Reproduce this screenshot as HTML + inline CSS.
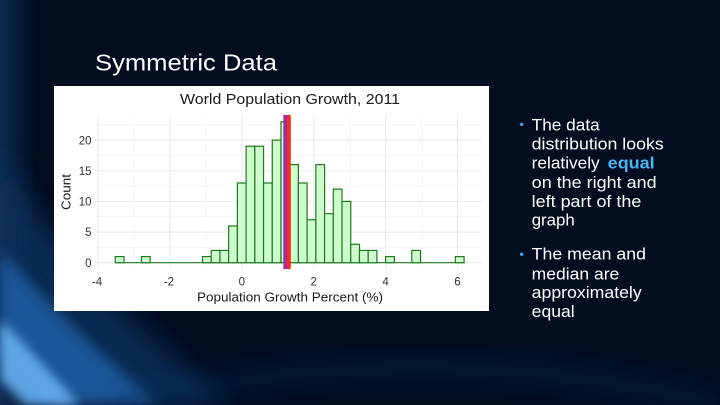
<!DOCTYPE html>
<html>
<head>
<meta charset="utf-8">
<style>
html,body{margin:0;padding:0;background:#020d20;width:720px;height:405px;overflow:hidden;}
svg{display:block;}
text{font-family:"Liberation Sans",Arial,sans-serif;}
</style>
</head>
<body>
<svg width="720" height="405" viewBox="0 0 720 405" xmlns="http://www.w3.org/2000/svg">
<defs>
  <filter id="b1" x="-50%" y="-50%" width="200%" height="200%"><feGaussianBlur stdDeviation="12"/></filter>
  <filter id="b2" x="-50%" y="-50%" width="200%" height="200%"><feGaussianBlur stdDeviation="7"/></filter>
  <filter id="b3" x="-50%" y="-50%" width="200%" height="200%"><feGaussianBlur stdDeviation="5"/></filter>
  <linearGradient id="edge" x1="0" y1="0" x2="1" y2="0">
    <stop offset="0" stop-color="#1c4f8c" stop-opacity="0.45"/>
    <stop offset="1" stop-color="#1c4f8c" stop-opacity="0"/>
  </linearGradient>
  <clipPath id="clip"><rect x="0" y="0" width="720" height="405"/></clipPath>
</defs>

<!-- background -->
<rect x="0" y="0" width="720" height="405" fill="#020d20"/>
<g clip-path="url(#clip)">
<rect x="0" y="0" width="35" height="405" fill="url(#edge)"/>
<path d="M0,150 Q60,270 230,405 L0,405 Z" fill="#0d3566" opacity="0.7" filter="url(#b1)"/>
<path d="M0,250 Q70,330 160,405 L50,405 Q25,375 0,355 Z" fill="#2466b0" opacity="0.75" filter="url(#b2)"/>
<path d="M0,320 Q35,355 80,405 L25,405 Q12,390 0,380 Z" fill="#66aff0" opacity="0.9" filter="url(#b3)"/>
<path d="M120,405 Q420,330 720,405" fill="none" stroke="#0a2e5c" stroke-width="12" opacity="0.6" filter="url(#b1)"/>
</g>

<!-- slide title -->
<text x="95" y="70.7" font-size="23" fill="#ffffff" textLength="182" lengthAdjust="spacingAndGlyphs">Symmetric Data</text>

<!-- chart box -->
<rect x="54" y="86" width="435" height="225" fill="#ffffff"/>

<!-- minor grid -->
<g stroke="#f4f4f4" stroke-width="0.8">
  <line x1="95" x2="482" y1="124.8" y2="124.8"/>
  <line x1="95" x2="482" y1="155.4" y2="155.4"/>
  <line x1="95" x2="482" y1="186.1" y2="186.1"/>
  <line x1="95" x2="482" y1="216.7" y2="216.7"/>
  <line x1="95" x2="482" y1="247.4" y2="247.4"/>
  <line y1="115" y2="269" x1="133.95" x2="133.95"/>
  <line y1="115" y2="269" x1="205.85" x2="205.85"/>
  <line y1="115" y2="269" x1="277.75" x2="277.75"/>
  <line y1="115" y2="269" x1="349.65" x2="349.65"/>
  <line y1="115" y2="269" x1="421.55" x2="421.55"/>
</g>
<!-- major grid -->
<g stroke="#ebebeb" stroke-width="1.1">
  <line x1="95" x2="482" y1="262.7" y2="262.7"/>
  <line x1="95" x2="482" y1="232.05" y2="232.05"/>
  <line x1="95" x2="482" y1="201.4" y2="201.4"/>
  <line x1="95" x2="482" y1="170.75" y2="170.75"/>
  <line x1="95" x2="482" y1="140.1" y2="140.1"/>
  <line y1="115" y2="269" x1="98" x2="98"/>
  <line y1="115" y2="269" x1="169.9" x2="169.9"/>
  <line y1="115" y2="269" x1="241.8" x2="241.8"/>
  <line y1="115" y2="269" x1="313.7" x2="313.7"/>
  <line y1="115" y2="269" x1="385.6" x2="385.6"/>
  <line y1="115" y2="269" x1="457.5" x2="457.5"/>
</g>

<!-- bars -->
<g fill="#cdfccd" stroke="#1f7a1f" stroke-width="1.2">
  <line x1="115.3" x2="464.1" y1="262.7" y2="262.7"/>
  <rect x="115.3" y="256.57" width="8.72" height="6.13"/>
  <rect x="141.46" y="256.57" width="8.72" height="6.13"/>
  <rect x="202.5" y="256.57" width="8.72" height="6.13"/>
  <rect x="211.22" y="250.44" width="8.72" height="12.26"/>
  <rect x="219.94" y="250.44" width="8.72" height="12.26"/>
  <rect x="228.66" y="225.92" width="8.72" height="36.78"/>
  <rect x="237.38" y="183.01" width="8.72" height="79.69"/>
  <rect x="246.1" y="146.23" width="8.72" height="116.47"/>
  <rect x="254.82" y="146.23" width="8.72" height="116.47"/>
  <rect x="263.54" y="183.01" width="8.72" height="79.69"/>
  <rect x="272.26" y="140.1" width="8.72" height="122.6"/>
  <rect x="280.98" y="121.71" width="8.72" height="140.99"/>
  <rect x="289.7" y="164.62" width="8.72" height="98.08"/>
  <rect x="298.42" y="183.01" width="8.72" height="79.69"/>
  <rect x="307.14" y="219.79" width="8.72" height="42.91"/>
  <rect x="315.86" y="164.62" width="8.72" height="98.08"/>
  <rect x="324.58" y="213.66" width="8.72" height="49.04"/>
  <rect x="333.3" y="189.14" width="8.72" height="73.56"/>
  <rect x="342.02" y="201.4" width="8.72" height="61.3"/>
  <rect x="350.74" y="244.31" width="8.72" height="18.39"/>
  <rect x="359.46" y="250.44" width="8.72" height="12.26"/>
  <rect x="368.18" y="250.44" width="8.72" height="12.26"/>
  <rect x="385.62" y="256.57" width="8.72" height="6.13"/>
  <rect x="411.78" y="250.44" width="8.72" height="12.26"/>
  <rect x="455.38" y="256.57" width="8.72" height="6.13"/>
</g>

<!-- mean / median lines -->
<rect x="283.3" y="115" width="4" height="154" fill="#9b2fae"/>
<rect x="286.8" y="115" width="4" height="154" fill="#fa2a1c"/>

<!-- chart title -->
<text x="290" y="104" font-size="15" fill="#1a1a1a" text-anchor="middle" textLength="220" lengthAdjust="spacingAndGlyphs">World Population Growth, 2011</text>

<!-- y tick labels -->
<g font-size="11.5" fill="#333333" text-anchor="end">
  <text x="91.5" y="266.9">0</text>
  <text x="91.5" y="236.2">5</text>
  <text x="91.5" y="205.6">10</text>
  <text x="91.5" y="174.9">15</text>
  <text x="91.5" y="144.3">20</text>
</g>
<!-- x tick labels -->
<g font-size="11.5" fill="#333333" text-anchor="middle">
  <text x="97" y="285.3">-4</text>
  <text x="168.9" y="285.3">-2</text>
  <text x="241.8" y="285.3">0</text>
  <text x="313.7" y="285.3">2</text>
  <text x="385.6" y="285.3">4</text>
  <text x="457.5" y="285.3">6</text>
</g>
<!-- axis titles -->
<text x="290" y="301.7" font-size="13" fill="#1a1a1a" text-anchor="middle" textLength="186" lengthAdjust="spacingAndGlyphs">Population Growth Percent (%)</text>
<text transform="translate(70.5,192) rotate(-90)" font-size="13" fill="#1a1a1a" text-anchor="middle" textLength="36" lengthAdjust="spacingAndGlyphs">Count</text>

<!-- bullets -->
<circle cx="521.7" cy="124.3" r="1.7" fill="#3fa9e6"/>
<circle cx="521.7" cy="254.3" r="1.7" fill="#3fa9e6"/>
<g font-size="17" fill="#ffffff">
  <text x="531.7" y="130.3" textLength="68" lengthAdjust="spacingAndGlyphs">The data</text>
  <text x="531.7" y="149.3" textLength="132" lengthAdjust="spacingAndGlyphs">distribution looks</text>
  <text x="531.7" y="168.7" textLength="68" lengthAdjust="spacingAndGlyphs">relatively</text>
  <text x="607.7" y="168.7" textLength="47" lengthAdjust="spacingAndGlyphs" font-weight="bold" fill="#45b6f2">equal</text>
  <text x="531.7" y="188" textLength="125" lengthAdjust="spacingAndGlyphs">on the right and</text>
  <text x="531.7" y="207" textLength="109.6" lengthAdjust="spacingAndGlyphs">left part of the</text>
  <text x="531.7" y="225.3" textLength="43" lengthAdjust="spacingAndGlyphs">graph</text>
  <text x="531.7" y="259.7" textLength="114.3" lengthAdjust="spacingAndGlyphs">The mean and</text>
  <text x="531.7" y="279.3" textLength="87.6" lengthAdjust="spacingAndGlyphs">median are</text>
  <text x="531.7" y="298" textLength="110" lengthAdjust="spacingAndGlyphs">approximately</text>
  <text x="531.7" y="317" textLength="43" lengthAdjust="spacingAndGlyphs">equal</text>
</g>
</svg>
</body>
</html>
